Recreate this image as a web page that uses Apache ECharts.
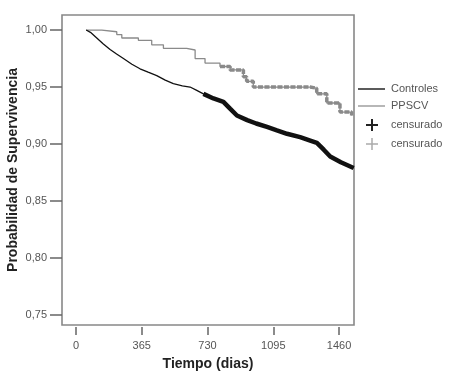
<!DOCTYPE html>
<html>
<head>
<meta charset="utf-8">
<script src="https://cdn.jsdelivr.net/npm/echarts@6/dist/echarts.min.js"></script>
<style>
html,body{margin:0;padding:0;background:#fff;}
#c{width:451px;height:372px;}
</style>
</head>
<body>
<div id="c"></div>
<script>
// Tick labels
const xTicks = [0, 365, 730, 1095, 1460];
const yTicks = [0.75, 0.80, 0.85, 0.90, 0.95, 1.00];

// Kaplan-Meier curves: [day, survival]
const controles = [[56,1.000],[80,0.998],[115,0.993],[150,0.988],[189,0.983],[225,0.979],[263,0.975],[310,0.970],[355,0.966],[400,0.963],[448,0.960],[495,0.956],[540,0.953],[590,0.951],[633,0.950],[670,0.947],[707,0.944],[763,0.940],[818,0.937],[855,0.931],[893,0.925],[950,0.921],[1000,0.918],[1060,0.915],[1115,0.912],[1171,0.909],[1244,0.906],[1300,0.903],[1337,0.901],[1375,0.895],[1411,0.889],[1470,0.884],[1541,0.879]];
const ppscv = [[56,1.000],[143,1.000],[150,0.9985],[226,0.996],[254,0.993],[346,0.991],[420,0.987],[485,0.984],[614,0.9825],[661,0.975],[716,0.971],[799,0.968],[855,0.965],[929,0.959],[947,0.955],[984,0.950],[1171,0.950],[1299,0.949],[1336,0.944],[1392,0.936],[1465,0.928],[1530,0.925]];
// day from which censored marks crowd the curve
const censorStartControles = 707;
const censorStartPpscv = 780;

const seriesNames = ['Controles', 'PPSCV', 'censurado', 'censurado'];

const BLACK = '#111';
const GRAY = '#8a8a8a';
const TXT = '#555';
const FONT = 'Liberation Sans, Arial, sans-serif';

const chart = echarts.init(document.getElementById('c'));
chart.setOption({
  animation: false,
  backgroundColor: '#fff',
  grid: {left: 62, top: 15, width: 292, height: 310, show: true, borderColor: '#888', borderWidth: 1.6,
    backgroundColor: '#fff', containLabel: false, outerBoundsMode: 'none'},
  xAxis: {
    type: 'value', min: -78, max: 1543, offset: 2,
    name: 'Tiempo (dias)', nameLocation: 'middle', nameGap: 30, nameMoveOverlap: false,
    nameTextStyle: {fontFamily: FONT, fontWeight: 'bold', fontSize: 14, color: '#222'},
    axisLine: {show: false, onZero: false},
    axisTick: {show: true, length: 8, customValues: xTicks, lineStyle: {color: '#666', width: 1.5}},
    axisLabel: {customValues: xTicks, margin: 13, fontFamily: FONT, fontSize: 11, color: TXT,
      formatter: v => String(v)},
    splitLine: {show: false}
  },
  yAxis: {
    type: 'value', min: 0.7412, max: 1.0132,
    name: 'Probabilidad de Supervivencia', nameLocation: 'middle', nameGap: 42, nameRotate: 90, nameMoveOverlap: false,
    nameTextStyle: {fontFamily: FONT, fontWeight: 'bold', fontSize: 14, color: '#222'},
    axisLine: {show: false, onZero: false},
    axisTick: {show: true, inside: false, length: 12, customValues: yTicks, lineStyle: {color: '#666', width: 1.5}},
    axisLabel: {customValues: yTicks, margin: 15, fontFamily: FONT, fontSize: 11, color: TXT,
      formatter: v => v.toFixed(2).replace('.', ',')},
    splitLine: {show: false}
  },
  series: [
    {name: seriesNames[0], type: 'line', data: controles, showSymbol: false,
      lineStyle: {color: BLACK, width: 1.3}, z: 3},
    {name: seriesNames[1], type: 'line', step: 'end', data: ppscv, showSymbol: false,
      lineStyle: {color: GRAY, width: 1.3}, z: 2},
    {name: seriesNames[2], type: 'line', data: controles.filter(d => d[0] >= censorStartControles), showSymbol: false,
      lineStyle: {color: BLACK, width: 4.5}, z: 3},
    {name: seriesNames[3], type: 'line', step: 'end', data: ppscv.filter(d => d[0] >= censorStartPpscv), showSymbol: false,
      lineStyle: {color: GRAY, width: 3.5, type: [5, 1.5]}, z: 2}
  ],
  graphic: [
    {type: 'line', shape: {x1: 358, y1: 89, x2: 385, y2: 89}, style: {stroke: '#333', lineWidth: 1.6}},
    {type: 'text', x: 391, y: 89, style: {text: seriesNames[0], fill: TXT, font: '11px ' + FONT, textVerticalAlign: 'middle'}},
    {type: 'line', shape: {x1: 358, y1: 106, x2: 385, y2: 106}, style: {stroke: '#999', lineWidth: 1.4}},
    {type: 'text', x: 391, y: 106, style: {text: seriesNames[1], fill: TXT, font: '11px ' + FONT, textVerticalAlign: 'middle'}},
    {type: 'line', shape: {x1: 366, y1: 125, x2: 378, y2: 125}, style: {stroke: '#222', lineWidth: 2}},
    {type: 'line', shape: {x1: 372, y1: 119, x2: 372, y2: 131}, style: {stroke: '#222', lineWidth: 2}},
    {type: 'text', x: 391, y: 125, style: {text: seriesNames[2], fill: TXT, font: '11px ' + FONT, textVerticalAlign: 'middle'}},
    {type: 'line', shape: {x1: 366, y1: 144, x2: 378, y2: 144}, style: {stroke: '#aaa', lineWidth: 1.5}},
    {type: 'line', shape: {x1: 372, y1: 138, x2: 372, y2: 150}, style: {stroke: '#aaa', lineWidth: 1.5}},
    {type: 'text', x: 391, y: 144, style: {text: seriesNames[3], fill: TXT, font: '11px ' + FONT, textVerticalAlign: 'middle'}}
  ]
});
</script>
</body>
</html>
